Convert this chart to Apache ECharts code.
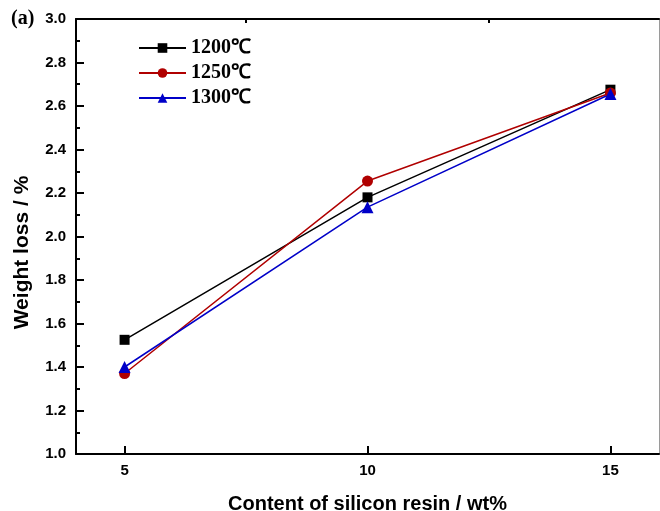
<!DOCTYPE html>
<html>
<head>
<meta charset="utf-8">
<script src="https://cdn.jsdelivr.net/npm/echarts@6/dist/echarts.min.js"></script>
<style>
  html, body { margin: 0; padding: 0; background: #ffffff; }
  #chart { width: 660px; height: 511px; }
</style>
</head>
<body>
<div id="chart"></div>
<script>
// Weight loss versus silicon resin content at three sintering temperatures
const resinContent = [5, 10, 15];
const loss1200 = [1.525, 2.18, 2.675];
const loss1250 = [1.37, 2.255, 2.66];
const loss1300 = [1.40, 2.135, 2.655];
const seriesNames = ['1200\u2103', '1250\u2103', '1300\u2103'];
const xMajorTicks = [5, 10, 15];
const xMinorTicks = [7.5, 12.5];

const sansBold = { fontFamily: 'Liberation Sans, Arial, sans-serif', fontWeight: 'bold', color: '#000' };

function pairs(values) {
  return resinContent.map((x, i) => [x, values[i]]);
}

const chart = echarts.init(document.getElementById('chart'), null, { renderer: 'canvas' });

const grid = { left: 76, top: 19, width: 583, height: 435, outerBoundsMode: 'none', containLabel: false };

chart.setOption({
  backgroundColor: '#ffffff',
  animation: false,
  grid: grid,
  legend: {
    orient: 'vertical',
    left: 133,
    top: 33,
    itemWidth: 47,
    itemHeight: 12,
    itemGap: 5,
    textStyle: { fontFamily: 'Liberation Serif, Times New Roman, serif', fontWeight: 'bold', fontSize: 20, lineHeight: 20, color: '#000' },
    data: seriesNames
  },
  xAxis: [
    {
      type: 'value', min: 4, max: 16,
      name: 'Content of silicon resin / wt%',
      nameLocation: 'middle', nameGap: 40,
      nameTextStyle: Object.assign({ fontSize: 20 }, sansBold),
      axisLine: { show: true, lineStyle: { color: '#000', width: 2 } },
      axisTick: { show: true, inside: true, length: 8, customValues: xMajorTicks, lineStyle: { color: '#000', width: 2 } },
      axisLabel: Object.assign({ fontSize: 15, margin: 9, customValues: xMajorTicks }, sansBold),
      splitLine: { show: false }
    },
    {
      type: 'value', min: 4, max: 16,
      axisLine: { show: false },
      axisTick: { show: true, inside: true, length: 4, customValues: xMinorTicks, lineStyle: { color: '#000', width: 2 } },
      axisLabel: { show: false },
      splitLine: { show: false }
    },
    {
      type: 'value', min: 4, max: 16, position: 'top',
      axisLine: { show: true, lineStyle: { color: '#000', width: 2 } },
      axisTick: { show: false }, axisLabel: { show: false }, splitLine: { show: false }
    }
  ],
  yAxis: [
    {
      type: 'value', min: 1.0, max: 3.0, interval: 0.2,
      name: 'Weight loss / %',
      nameLocation: 'middle', nameGap: 43,
      nameTextStyle: Object.assign({ fontSize: 21, padding: [0, 32, 0, 0] }, sansBold),
      axisLine: { show: true, lineStyle: { color: '#000', width: 2 } },
      axisTick: { show: true, inside: true, length: 8, lineStyle: { color: '#000', width: 2 } },
      minorTick: { show: true, splitNumber: 2, length: 4, lineStyle: { color: '#000', width: 2 } },
      axisLabel: Object.assign({ fontSize: 15, margin: 10, formatter: v => v.toFixed(1) }, sansBold),
      splitLine: { show: false }
    },
    {
      type: 'value', min: 1.0, max: 3.0, position: 'right',
      axisLine: { show: true, lineStyle: { color: '#9a9a9a', width: 1 } },
      axisTick: { show: false }, axisLabel: { show: false }, splitLine: { show: false }
    }
  ],
  graphic: [
    {
      type: 'text', left: 11, top: 9,
      style: { text: '(a)', font: 'bold 20px "Liberation Serif", "Times New Roman", serif', fill: '#000' }
    }
  ],
  series: [
    {
      name: seriesNames[0], type: 'line', data: pairs(loss1200),
      symbol: 'rect', symbolSize: 10,
      lineStyle: { color: '#000000', width: 1.5 },
      itemStyle: { color: '#000000' }
    },
    {
      name: seriesNames[1], type: 'line', data: pairs(loss1250),
      symbol: 'circle', symbolSize: 11,
      lineStyle: { color: '#b00000', width: 1.5 },
      itemStyle: { color: '#b00000' }
    },
    {
      name: seriesNames[2], type: 'line', data: pairs(loss1300),
      symbol: 'triangle', symbolSize: 12,
      lineStyle: { color: '#0000c8', width: 1.5 },
      itemStyle: { color: '#0000c8' }
    }
  ]
});
</script>
</body>
</html>
